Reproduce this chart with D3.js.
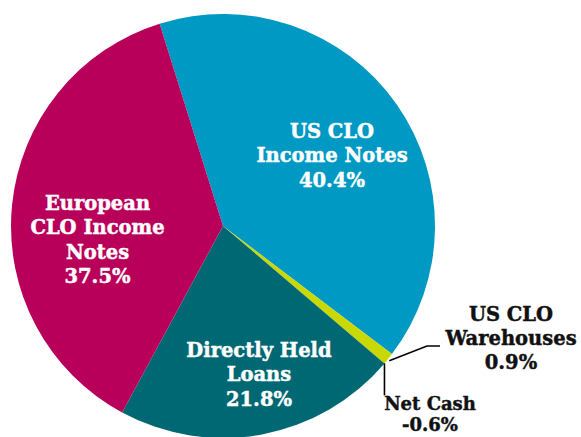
<!DOCTYPE html>
<html>
<head>
<meta charset="utf-8">
<script src="https://cdn.jsdelivr.net/npm/d3@7"></script>
<style>
body{margin:0;background:#fff;}
text{font-family:"DejaVu Serif",serif;font-weight:bold;}
</style>
</head>
<body>
<div class="visHolder"></div>
<script>
// slices drawn clockwise from the top boundary
const categories=["US CLO Income Notes","US CLO Warehouses","Directly Held Loans","European CLO Income Notes"];
const values=[40.4,0.9,21.8,37.5];
const colors=["#0099c4","#c8d800","#006873","#b8005a"];
// labels (lines) and percent text
const labelLines=[["US CLO","Income Notes"],["US CLO","Warehouses"],["Directly Held","Loans"],["European","CLO Income","Notes"]];
const netCash={name:"Net Cash",value:-0.6};

const w=581,h=437,cx=223,cy=226,r=212;
const svg=d3.select(".visHolder")
.append("svg")
.attr("width",w)
.attr("height",h);

const g=svg.append("g").attr("transform","translate("+cx+","+cy+")");

const pie=d3.pie().sort(null).value(d=>d).startAngle(-17.4*Math.PI/180).endAngle((360-17.4)*Math.PI/180);
const arcs=pie(values);
const arc=d3.arc().innerRadius(0).outerRadius(r);

g.selectAll("path")
.data(arcs)
.enter()
.append("path")
.attr("d",arc)
.attr("fill",(d,i)=>colors[i]);

const fmt=v=>v.toFixed(1)+"%";
const fs="19.5px";

// inside labels: [slice index, x offset, y of first baseline]
const inner=[[0,109,-88],[2,36,131],[3,-125.5,-16]];
inner.forEach(([i,dx,y0])=>{
  const lines=labelLines[i].concat([fmt(values[i])]);
  const t=g.append("text").attr("text-anchor","middle").attr("fill","#fff")
  .attr("stroke","#fff").attr("stroke-width",0.45).style("font-size",fs);
  lines.forEach((s,k)=>{
    t.append("tspan").attr("x",dx).attr("y",y0+k*24.3).text(s);
  });
});

// leader lines from the warehouse slice edge
const wh=arcs[1];
const ang=(wh.startAngle+wh.endAngle)/2;
const px=Math.sin(ang)*r, py=-Math.cos(ang)*r;
const edge=[Math.sin(wh.endAngle)*r,-Math.cos(wh.endAngle)*r];
g.append("polyline")
.attr("points",[[px+1,py+2],[204,120],[217,120]].map(p=>p.join(",")).join(" "))
.attr("fill","none").attr("stroke","#000").attr("stroke-width",1.6);
g.append("line")
.attr("x1",edge[0]).attr("y1",edge[1]).attr("x2",edge[0]).attr("y2",edge[1]+32)
.attr("stroke","#000").attr("stroke-width",1.6);

const whText=g.append("text").attr("text-anchor","middle").attr("fill","#111")
.attr("stroke","#111").attr("stroke-width",0.45).style("font-size",fs);
labelLines[1].concat([fmt(values[1])]).forEach((s,k)=>{
  whText.append("tspan").attr("x",288).attr("y",95+k*24).text(s);
});
const ncText=g.append("text").attr("text-anchor","middle").attr("fill","#111")
.attr("stroke","#111").attr("stroke-width",0.45).style("font-size","18px");
[netCash.name,fmt(netCash.value)].forEach((s,k)=>{
  ncText.append("tspan").attr("x",207).attr("y",184+k*21).text(s);
});
</script>
</body>
</html>
